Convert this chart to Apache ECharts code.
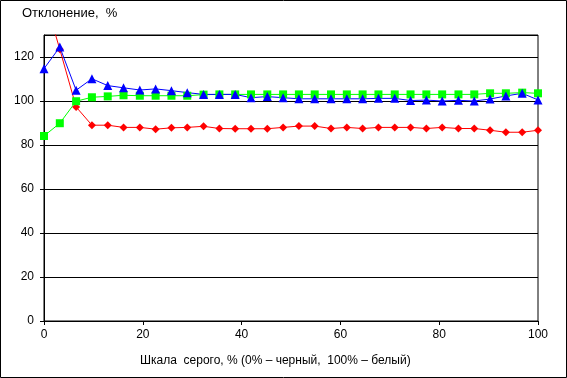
<!DOCTYPE html>
<html><head><meta charset="utf-8">
<script src="https://cdn.jsdelivr.net/npm/echarts@6/dist/echarts.min.js"></script>
<style>html,body{margin:0;padding:0;background:#fff}#c{width:567px;height:378px}</style>
</head><body><div id="c"></div>
<script>
const grayPercent = [0, 3.2, 6.5, 9.7, 12.9, 16.1, 19.4, 22.6, 25.8, 29.0, 32.3, 35.5, 38.7, 41.9, 45.2, 48.4, 51.6, 54.8, 58.1, 61.3, 64.5, 67.7, 71.0, 74.2, 77.4, 80.6, 83.9, 87.1, 90.3, 93.5, 96.8, 100];
const redValues = [148, 123.5, 97.3, 89.0, 89.0, 88.0, 88.0, 87.2, 87.8, 88.0, 88.5, 87.5, 87.4, 87.4, 87.4, 88.0, 88.6, 88.6, 87.5, 88.0, 87.5, 88.0, 88.0, 88.0, 87.5, 88.0, 87.5, 87.5, 86.7, 85.8, 85.8, 86.7];
const blueValues = [114.7, 124.5, 104.9, 110.1, 107.0, 106.0, 105.0, 105.5, 104.7, 103.8, 103.0, 103.0, 103.0, 101.5, 102.0, 101.5, 101.0, 101.0, 101.0, 101.0, 101.0, 101.2, 101.2, 100.2, 100.4, 100.0, 100.3, 100.0, 100.9, 102.3, 103.5, 100.5];
const greenValues = [84.1, 89.9, 99.9, 101.7, 102.1, 102.6, 102.4, 102.4, 102.4, 102.4, 102.9, 103.0, 103.0, 103.0, 103.0, 103.0, 103.0, 103.0, 103.0, 103.0, 103.0, 103.0, 103.0, 103.0, 103.0, 103.0, 103.0, 103.0, 103.5, 103.5, 103.8, 103.5];
const yTitle = 'Отклонение,  %';
const xTitle = 'Шкала  серого, % (0% – черный,  100% – белый)';

const pair = v => grayPercent.map((x, i) => [x, v[i]]);
const font = 'Liberation Sans, Arial, sans-serif';
const chart = echarts.init(document.getElementById('c'), null, {renderer: 'canvas'});
chart.setOption({
  animation: false,
  grid: {left: 44, right: 29, top: 35, bottom: 57, show: true, borderColor: '#000', borderWidth: 1, backgroundColor: 'transparent'},
  xAxis: {
    type: 'value', min: 0, max: 100, interval: 20,
    axisLine: {lineStyle: {color: '#000', width: 1}},
    axisTick: {show: true, length: 4, lineStyle: {color: '#000'}},
    axisLabel: {color: '#000', fontFamily: font, fontSize: 12, margin: 8},
    splitLine: {show: false}
  },
  yAxis: {
    type: 'value', min: 0, max: 130, interval: 20,
    axisLine: {show: true, lineStyle: {color: '#000', width: 1}},
    axisTick: {show: true, length: 4, lineStyle: {color: '#000'}},
    axisLabel: {color: '#000', fontFamily: font, fontSize: 12, margin: 10, showMaxLabel: false,
      formatter: v => (v > 120 ? '' : String(v))},
    splitLine: {show: true, lineStyle: {color: '#000', width: 1}}
  },
  graphic: [
    {type: 'rect', shape: {x: 0.5, y: 0.5, width: 566, height: 377}, style: {fill: 'none', stroke: '#000', lineWidth: 1}, silent: true},
    {type: 'text', left: 22, top: 7, style: {text: yTitle, fill: '#000', font: '13px ' + font}},
    {type: 'text', left: 140, top: 355, style: {text: xTitle, fill: '#000', font: '12px ' + font}}
  ],
  series: [
    {type: 'line', data: pair(redValues), clip: true, symbol: 'diamond', symbolSize: 8,
      itemStyle: {color: '#ff0000'}, lineStyle: {color: '#ff0000', width: 1}},
    {type: 'line', data: pair(greenValues), clip: true, symbol: 'rect', symbolSize: 8,
      itemStyle: {color: '#00ff00'}, lineStyle: {color: '#00ff00', width: 1}},
    {type: 'line', data: pair(blueValues), clip: true, symbol: 'triangle', symbolSize: 9,
      itemStyle: {color: '#0000ff'}, lineStyle: {color: '#0000ff', width: 1}}
  ]
});
</script></body></html>
